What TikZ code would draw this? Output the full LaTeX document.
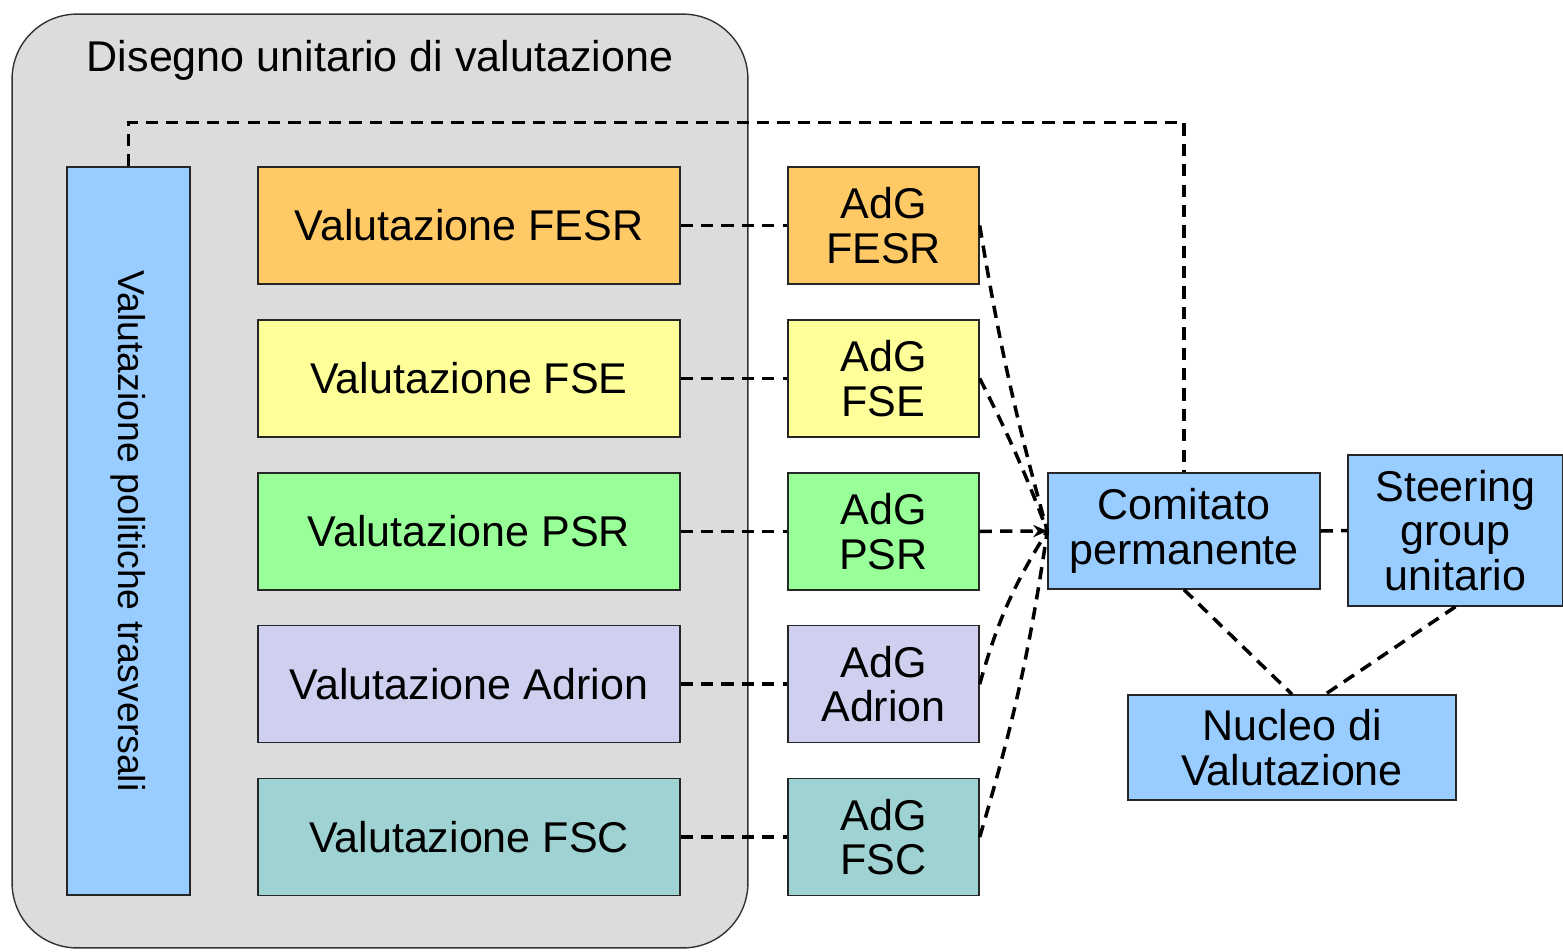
\documentclass[tikz,border=0pt]{standalone}
\usepackage{fontspec}
\setmainfont{Liberation Sans}
\usetikzlibrary{arrows.meta}

\definecolor{cGray}{HTML}{DCDCDC}
\definecolor{cBlue}{HTML}{99CCFF}
\definecolor{cFESR}{HTML}{FFC966}
\definecolor{cFSE}{HTML}{FFFF99}
\definecolor{cPSR}{HTML}{99FF99}
\definecolor{cAdrion}{HTML}{CFCFF0}
\definecolor{cFSC}{HTML}{9FD3D3}

\tikzset{
  box/.style={draw=black!85, line width=0.8pt, align=center, inner sep=0pt,
    font=\fontsize{24.5}{25.5}\selectfont},
  valbox/.style={box, minimum width=8.44cm, minimum height=2.34cm},
  adgbox/.style={box, minimum width=3.82cm, minimum height=2.34cm},
  bluebox/.style={box, fill=cBlue},
  link/.style={line width=2pt, dash pattern=on 7pt off 4.6pt}
}

\begin{document}
\begin{tikzpicture}[x=0.02cm, y=-0.02cm]
  \useasboundingbox (0,0) rectangle (1563,951);
  % container
  \node[draw=black!80, line width=0.8pt, fill=cGray, rounded corners=1.3cm,
    minimum width=14.72cm, minimum height=18.68cm] (disegno) at (380,481) {};
  \node[font=\fontsize{24.5}{25.5}\selectfont] (titolo) at (380,60) {Disegno unitario di valutazione};
  \node[bluebox, minimum width=2.46cm, minimum height=14.56cm] (trasv) at (128.5,531) {};
  \node[rotate=-90, font=\fontsize{21.3}{24}\selectfont] (trasvlab) at (trasv) {Valutazione politiche trasversali};

  % the five funds
  \foreach \n/\lab/\col [count=\i] in {fesr/FESR/cFESR, fse/FSE/cFSE, psr/PSR/cPSR,
      adrion/Adrion/cAdrion, fsc/FSC/cFSC} {
    \node[valbox, fill=\col] (val\n) at (469,{225.5+152.9*(\i-1)}) {Valutazione \lab};
    \node[adgbox, fill=\col] (adg\n) at (883.5,{225.5+152.9*(\i-1)}) {AdG\\\lab};
    \draw[link] (valfesr.east |- val\n) -- (adg\n.west);
  }

  % governance
  \node[bluebox, minimum width=5.44cm, minimum height=2.32cm] (comitato) at (1184,531) {Comitato\\permanente};
  \node[bluebox, minimum width=4.3cm, minimum height=3.02cm] (steering) at (1455.5,530.5) {Steering\\group\\unitario};
  \node[bluebox, minimum width=6.56cm, minimum height=2.1cm] (nucleo) at (1292,747.5) {Nucleo di\\Valutazione};

  \draw[link] (adgfesr.east) to[bend right=3] (comitato.west);
  \draw[link] (adgfse.east) to[bend left=3] (comitato.west);
  \draw[link, -{Stealth[length=8pt, width=7pt]}] (adgpsr.east) -- (comitato.west);
  \draw[link] (adgadrion.east) to[bend left=8] (comitato.west);
  \draw[link] (adgfsc.east) to[bend right=4] (comitato.west);

  \draw[link] (trasv.north) -- ++(0,-44) -| (comitato.north);
  \draw[link] (comitato.east) -- (steering.west);
  \draw[link] (comitato.south) -- (nucleo.north);
  \draw[link] (steering.south) -- (nucleo.58);
\end{tikzpicture}
\end{document}
